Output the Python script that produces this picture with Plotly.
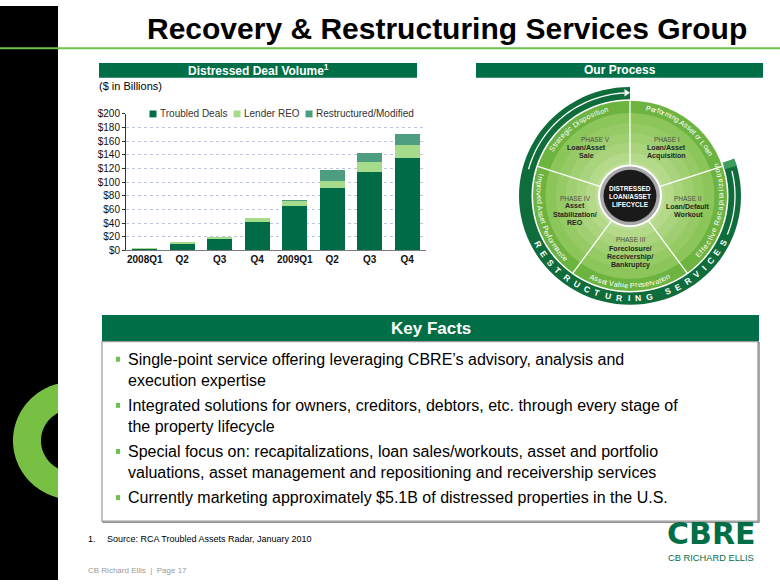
import math
import plotly.graph_objects as go

W, H = 780, 585
FONT = "Liberation Sans, Arial, Helvetica, sans-serif"

# ---------------- data ----------------
categories = ["2008Q1", "Q2", "Q3", "Q4", "2009Q1", "Q2", "Q3", "Q4"]
troubled_deals = [2.5, 10, 16, 42, 65.5, 91, 115, 135]
lender_reo = [1, 1.5, 3, 6, 7, 10, 14, 20]
restructured_modified = [0, 0, 0, 0, 0.5, 17, 14, 16]
series_names = ["Troubled Deals", "Lender REO", "Restructured/Modified"]
series_colors = ["#006B47", "#A6DB8C", "#4D9D80"]
y_ticks = [0, 20, 40, 60, 80, 100, 120, 140, 160, 180, 200]
y_tick_labels = ["$" + str(v) for v in y_ticks]

key_facts = [
    "Single-point service offering leveraging CBRE\u2019s advisory, analysis and<br>execution expertise",
    "Integrated solutions for owners, creditors, debtors, etc. through every stage of<br>the property lifecycle",
    "Special focus on: recapitalizations, loan sales/workouts, asset and portfolio<br>valuations, asset management and repositioning and receivership services",
    "Currently marketing approximately $5.1B of distressed properties in the U.S.",
]

GREEN = "#006F47"
LIGHT = "#78C043"
RING_DARK = "#0F6D3B"
BAND = "#6DB33F"

shapes = []
annotations = []


def P(x, y):
    return x / W, 1 - y / H


def rect(x0, y0, x1, y1, fill=None, lc=None, lw=0, layer="above"):
    shapes.append(dict(type="rect", xref="paper", yref="paper", x0=x0 / W, x1=x1 / W,
                       y0=1 - y1 / H, y1=1 - y0 / H, fillcolor=fill or "rgba(0,0,0,0)",
                       line=dict(width=lw, color=lc or "rgba(0,0,0,0)"), layer=layer))


def circle(cx, cy, r, fill, lc=None, lw=0):
    shapes.append(dict(type="circle", xref="paper", yref="paper", x0=(cx - r) / W, x1=(cx + r) / W,
                       y0=1 - (cy + r) / H, y1=1 - (cy - r) / H, fillcolor=fill,
                       line=dict(width=lw, color=lc or "rgba(0,0,0,0)")))


def pol(cx, cy, r, a):
    t = math.radians(a)
    return cx + r * math.cos(t), cy - r * math.sin(t)


def path(pts, fill=None, lc=None, lw=0, close=True):
    s = "M " + " L ".join("%.5f,%.5f" % P(x, y) for x, y in pts) + (" Z" if close else "")
    shapes.append(dict(type="path", xref="paper", yref="paper", path=s,
                       fillcolor=fill or "rgba(0,0,0,0)",
                       line=dict(width=lw, color=lc or "rgba(0,0,0,0)")))


def arc(cx, cy, r, a0, a1, n=80):
    return [pol(cx, cy, r, a0 + (a1 - a0) * i / n) for i in range(n + 1)]


def text(x, y, s, size, color="#000", bold=False, xanchor="center", yanchor="middle", angle=0,
         align="center", family=FONT):
    annotations.append(dict(x=x / W, y=1 - y / H, xref="paper", yref="paper", text=s, showarrow=False,
                            xanchor=xanchor, yanchor=yanchor, textangle=angle, borderpad=0,
                            borderwidth=0, align=align,
                            font=dict(family=family, size=size, color=color,
                                      weight="bold" if bold else "normal")))


CW_TABLE = {' ': .278, 'a': .556, 'b': .556, 'c': .5, 'd': .556, 'e': .556, 'f': .278, 'g': .556,
            'h': .556, 'i': .222, 'j': .222, 'k': .5, 'l': .222, 'm': .833, 'n': .556, 'o': .556,
            'p': .556, 'q': .556, 'r': .333, 's': .5, 't': .278, 'u': .556, 'v': .5, 'w': .722,
            'x': .5, 'y': .5, 'z': .5, 'I': .278}


def cwid(c):
    if c in CW_TABLE:
        return CW_TABLE[c]
    return .7 if c.isupper() else .556


def curved(s, cx, cy, r, a_start, a_end, size, color="#fff", bold=False):
    cw = a_end < a_start
    sign = -1 if cw else 1
    ws = [cwid(c) * size for c in s]
    span = abs(a_end - a_start) * math.pi / 180 * r
    track = (span - sum(ws)) / len(s)
    pos = 0.0
    for c, w in zip(s, ws):
        adv = w + track
        mid = pos + adv / 2
        pos += adv
        if c == " ":
            continue
        a = a_start + sign * math.degrees(mid / r)
        x, y = pol(cx, cy, r, a)
        ang = (90 - a) if cw else (-90 - a)
        ang = ((ang + 180) % 360) - 180
        text(x, y, c, size, color, bold, angle=ang)


# ---------------- slide frame ----------------
rect(0, 0, 58, 585, fill="#000000")
RX, RY = 73, 443
ao = math.degrees(math.acos((58 - RX) / 60))
ai = math.degrees(math.acos((58 - RX) / 32))
path(arc(RX, RY, 60, ao, 360 - ao) + arc(RX, RY, 32, 360 - ai, ai), fill=LIGHT)
rect(0, 42, 780, 44, fill="#6CC24A")
text(447, 23, "Recovery &amp; Restructuring Services Group", 30, "#000", True)

# ---------------- chart panel ----------------
rect(99, 58, 417, 73, fill=GREEN)
text(258, 65.5, "Distressed Deal Volume<sup>1</sup>", 12, "#fff", True)
text(99, 82, "($ in Billions)", 11, "#000", xanchor="left")

rect(147, 104, 408, 116, fill="#ffffff")
leg_x = [153, 237, 309]
for name, col, lx in zip(series_names, series_colors, leg_x):
    rect(lx - 3.5, 106.5, lx + 3.5, 113.5, fill=col)
    text(lx + 7, 110, name, 10, "#333", xanchor="left")

# ---------------- process wheel ----------------
rect(476, 58, 763, 73, fill=GREEN)
text(619.5, 65.5, "Our Process", 12, "#fff", True)

CX, CY = 630, 193.5
path(arc(CX, CY, 111, 90, 378) + arc(CX, CY, 98.5, 378, 90), fill=RING_DARK)
path(arc(CX, CY, 111, 16, 20, 6) + arc(CX, CY, 98.5, 20, 16, 6), fill="#3E9C5E")
circle(CX, CY, 97, BAND)
grad = ["#8CC65A", "#95CA65", "#9FCF71", "#A9D47D", "#B3D989", "#BDDE96"]
for i, rr in enumerate([84.5, 74, 64, 54, 44, 35]):
    circle(CX, CY, rr, grad[i])
for a in [90, 18, -54, -126, 162]:
    path([pol(CX, CY, 30, a), pol(CX, CY, 97, a)], lc="#ffffff", lw=1.3, close=False)
path(arc(CX, CY, 105, 93, 165, 40), lc="#ffffff", lw=1.3, close=False)
path(arc(CX, CY, 105, -22, 14, 20), lc="#ffffff", lw=1.3, close=False)
path([(624.5, 84.7), (630, 88.5), (624.5, 92.3)], fill="#ffffff")
circle(CX, CY, 32, "#ffffff")
circle(CX, CY, 30, "#A8A8A8")
circle(CX, CY, 26.5, "#1A1A1A")

curved("Performing Asset or Loan", CX, CY, 91, 80, 27, 7.3)
curved("Strategic Disposition", CX, CY, 91, 150, 104, 7.3)
curved("Improved Asset Performance", CX, CY, 91, 166, 226, 7.3)
curved("Asset Value Preservation", CX, CY, 91, -116, -64, 7.3)
curved("Effective Recapitalization", CX, CY, 91, -43, 21, 7.3)
curved("RESTRUCTURING SERVICES", CX, CY, 104.5, -155, -24, 8.5, bold=True)

phase_text = [
    (595, 136, "PHASE V", False), (586, 145, "Loan/Asset", True), (586, 153.3, "Sale", True),
    (666.7, 136, "PHASE I", False), (666.7, 145, "Loan/Asset", True), (666.7, 153.3, "Acquisition", True),
    (688.3, 195.7, "PHASE II", False), (688.3, 204.5, "Loan/Default", True), (688.3, 212.8, "Workout", True),
    (630, 238.3, "PHASE III", False), (630, 247.5, "Foreclosure/", True), (630, 255.8, "Receivership/", True),
    (630, 264.1, "Bankruptcy", True),
    (575, 195.7, "PHASE IV", False), (575, 204.3, "Asset", True), (575, 212.6, "Stabilization/", True),
    (575, 220.9, "REO", True),
]
for x, y, s, b in phase_text:
    if b:
        text(x, y, s, 7.1, "#262626", True)
    else:
        text(x, y, s, 6.5, "#4d4d4d", False)
for y, s in [(186, "DISTRESSED"), (194, "LOAN/ASSET"), (202, "LIFECYCLE")]:
    text(CX, y, s, 6.5, "#ffffff", True)

# ---------------- key facts ----------------
rect(102, 315, 759, 342, fill=GREEN)
text(430.5, 329, "Key Facts", 17, "#fff", True)
rect(103, 343, 759, 526, lc="#6f6f6f", lw=1.2)
rect(102, 342, 758, 525, fill="#ffffff", lc="#9a9a9a", lw=1.2)
bullet_rows = [(360, 370.5), (407, 417.5), (454, 464.5), (501, 501)]
for (y_first, y_mid), s in zip(bullet_rows, key_facts):
    rect(116, y_first - 2.5, 120, y_first + 2.5, fill="#6CC24A")
    text(128, y_mid, s, 16, "#000", xanchor="left", align="left")

text(88, 543, "1.", 9, "#000", xanchor="left")
text(107, 543, "Source: RCA Troubled Assets Radar, January 2010", 9, "#000", xanchor="left")
text(88, 575, "CB Richard Ellis  |  Page 17", 8, "#999999", xanchor="left")

text(710.5, 538, "CBRE", 30, GREEN, True, family="DejaVu Sans, sans-serif")
text(710.5, 562.5, "CB RICHARD ELLIS", 9.3, GREEN)

# ---------------- figure ----------------
fig = go.Figure()
x_idx = list(range(len(categories)))
for name, vals, col in zip(series_names, [troubled_deals, lender_reo, restructured_modified], series_colors):
    fig.add_trace(go.Bar(x=x_idx, y=vals, name=name, marker=dict(color=col, line=dict(width=0)),
                         showlegend=False))

fig.update_layout(
    width=W, height=H, autosize=False,
    margin=dict(l=0, r=0, t=0, b=0),
    paper_bgcolor="#ffffff", plot_bgcolor="#ffffff",
    barmode="stack", bargap=0.33,
    font=dict(family=FONT, color="#000"),
    xaxis=dict(domain=[126 / W, 426 / W], range=[-0.5, len(categories) - 0.5],
               tickvals=x_idx, ticktext=categories, showgrid=False, zeroline=False,
               showline=True, linecolor="#7a7a7a", linewidth=1,
               tickfont=dict(size=10, color="#111", weight="bold"), ticks=""),
    yaxis=dict(domain=[1 - 249 / H, 1 - 110 / H], range=[0, 200], tickvals=y_ticks,
               ticktext=y_tick_labels, showgrid=True, gridcolor="#BCC6E4", griddash="dot",
               gridwidth=1, zeroline=False, showline=True, linecolor="#333333", linewidth=1,
               ticks="outside", ticklen=3, tickcolor="#333333",
               tickfont=dict(size=10, color="#111")),
    shapes=shapes,
    annotations=annotations,
)

fig.write_html("out.html", config={"displayModeBar": False},
               post_script="document.body.style.margin='0';document.body.style.padding='0';")
